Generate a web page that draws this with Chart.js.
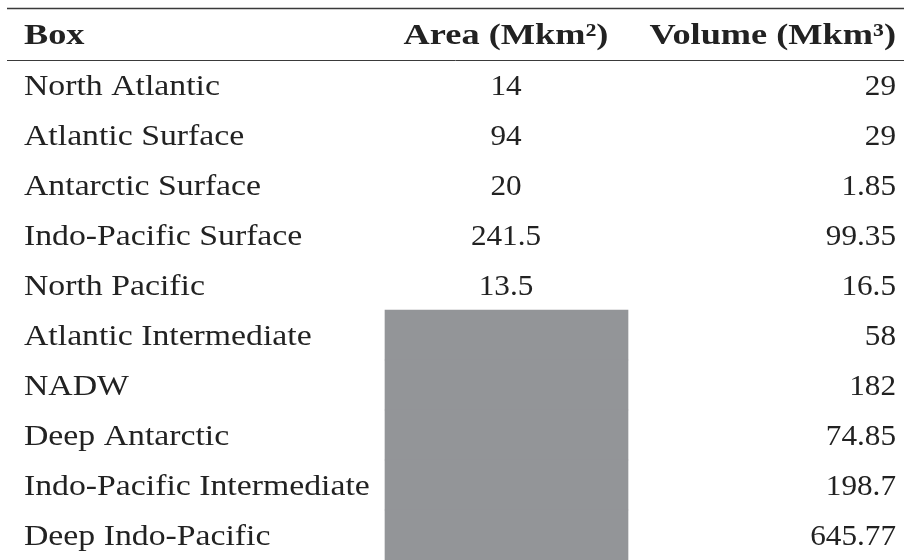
<!DOCTYPE html>
<html>
<head>
<meta charset="utf-8">
<script src="https://cdn.jsdelivr.net/npm/chart.js@4"></script>
<style>
  html, body { margin: 0; padding: 0; background: #ffffff; }
  canvas { display: block; }
</style>
</head>
<body>
<canvas id="c" width="904" height="560"></canvas>
<script>
// ---- data ----
const boxes = [
  "North Atlantic",
  "Atlantic Surface",
  "Antarctic Surface",
  "Indo-Pacific Surface",
  "North Pacific",
  "Atlantic Intermediate",
  "NADW",
  "Deep Antarctic",
  "Indo-Pacific Intermediate",
  "Deep Indo-Pacific"
];
const areaMkm2 = [14, 94, 20, 241.5, 13.5, null, null, null, null, null];
const volumeMkm3 = [29, 29, 1.85, 99.35, 16.5, 58, 182, 74.85, 198.7, 645.77];
const headers = ["Box", "Area (Mkm\u00B2)", "Volume (Mkm\u00B3)"];

// ---- layout (positions / styles) ----
const W = 904, H = 560;
const COL_EDGES = [7, 385, 628, 904];   // table column boundaries on the x scale
const TEXT_X = { box: 24, areaCenter: 506, volRight: 896 };
const FONT = '"Liberation Serif", "DejaVu Serif", serif';
const LABEL_FS = 30, LABEL_STRETCH = 1.125;
const NUM_FS = 30, NUM_STRETCH = 1.04;
const HEAD_FS = 30, HEAD_STRETCH = 1.21;
const TEXT_COLOR = "#222222";
const CELL_GRAY = "#939598";
const RULE_COLOR = "#3a3a3a";

const missingCells = areaMkm2.map(v => (v === null ? [COL_EDGES[1], COL_EDGES[2]] : null));

function drawText(ctx, text, x, y, align, stretch) {
  ctx.save();
  ctx.translate(x, y);
  ctx.scale(stretch, 1);
  ctx.textAlign = align;
  ctx.fillText(text, 0, 0);
  ctx.restore();
}

const tablePlugin = {
  id: "tableText",
  afterDatasetsDraw(chart) {
    const ctx = chart.ctx;
    const y = chart.scales.y;
    const x = chart.scales.x;
    const area = chart.chartArea;
    ctx.save();
    // rules
    ctx.strokeStyle = RULE_COLOR;
    ctx.lineWidth = 1.6;
    ctx.beginPath();
    ctx.moveTo(x.getPixelForValue(COL_EDGES[0]), 8.5);
    ctx.lineTo(x.getPixelForValue(COL_EDGES[3]), 8.5);
    ctx.stroke();
    ctx.lineWidth = 1;
    ctx.beginPath();
    ctx.moveTo(x.getPixelForValue(COL_EDGES[0]), area.top + 0.5);
    ctx.lineTo(x.getPixelForValue(COL_EDGES[3]), area.top + 0.5);
    ctx.stroke();

    // header
    ctx.fillStyle = TEXT_COLOR;
    ctx.textBaseline = "alphabetic";
    ctx.font = "bold " + HEAD_FS + "px " + FONT;
    const hb = 44;
    drawText(ctx, headers[0], TEXT_X.box, hb, "left", HEAD_STRETCH);
    drawText(ctx, headers[1], TEXT_X.areaCenter, hb, "center", HEAD_STRETCH);
    drawText(ctx, headers[2], TEXT_X.volRight, hb, "right", HEAD_STRETCH);

    // body
    boxes.forEach((name, i) => {
      const cy = y.getPixelForValue(i) + 10;
      ctx.font = LABEL_FS + "px " + FONT;
      drawText(ctx, name, TEXT_X.box, cy, "left", LABEL_STRETCH);
      ctx.font = NUM_FS + "px " + FONT;
      if (areaMkm2[i] !== null) {
        drawText(ctx, String(areaMkm2[i]), TEXT_X.areaCenter, cy, "center", NUM_STRETCH);
      }
      drawText(ctx, String(volumeMkm3[i]), TEXT_X.volRight, cy, "right", NUM_STRETCH);
    });
    ctx.restore();
  }
};

new Chart(document.getElementById("c"), {
  type: "bar",
  data: {
    labels: boxes,
    datasets: [{
      label: "missing area",
      data: missingCells,
      backgroundColor: CELL_GRAY,
      borderWidth: 0,
      barPercentage: 1,
      categoryPercentage: 1
    }]
  },
  options: {
    indexAxis: "y",
    responsive: false,
    animation: false,
    devicePixelRatio: 1,
    layout: { padding: { top: 60, left: 0, right: 0, bottom: 0 } },
    plugins: { legend: { display: false }, tooltip: { enabled: false } },
    scales: {
      x: { type: "linear", display: false, min: 0, max: W },
      y: { type: "category", display: false, offset: true }
    }
  },
  plugins: [tablePlugin]
});
</script>
</body>
</html>
